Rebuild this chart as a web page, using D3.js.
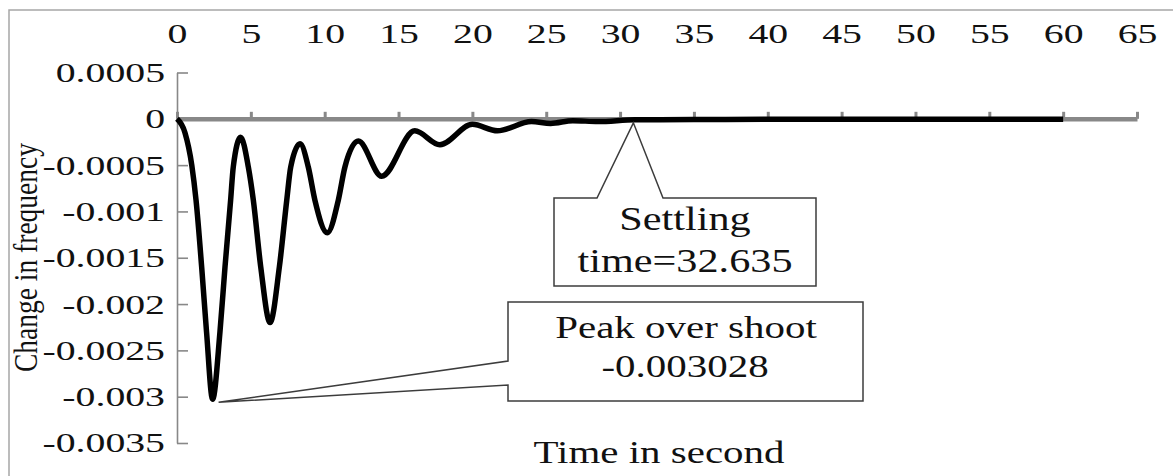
<!DOCTYPE html>
<html>
<head>
<meta charset="utf-8">
<script src="https://cdn.jsdelivr.net/npm/d3@7"></script>
<style>
  body { margin: 0; background: #fff; }
  svg { display: block; font-family: "Liberation Serif", "Times New Roman", serif; }
</style>
</head>
<body>
<svg id="chart"></svg>
<script>
// values
const timeSec = [0, 0.54, 1.0, 1.29, 1.67, 2.0, 2.41, 2.91, 3.25, 3.63, 3.81, 4.31,
  4.83, 5.17, 5.67, 6.3, 6.93, 7.43, 7.7, 8.33, 8.89, 9.34, 10.18, 10.92, 11.37,
  12.28, 13.86, 16.1, 17.8, 20.0, 21.7, 24.0, 25.3, 26.8, 28.5, 31, 35, 40, 60];
const freqChange = [0, -0.00015, -0.0005, -0.00088, -0.0016, -0.0023, -0.003028,
  -0.0023, -0.0016, -0.00088, -0.00052, -0.0002, -0.00052, -0.00088, -0.0016,
  -0.0022, -0.0016, -0.00088, -0.00052, -0.00027, -0.00052, -0.00088, -0.00123,
  -0.00088, -0.00052, -0.00024, -0.00062, -0.00013, -0.00028, -0.00006, -0.00013,
  -0.00003, -0.00005, -0.00002, -0.00003, -0.00001, -0.000008, -0.000005, -0.000005];

const xTicks = [0, 5, 10, 15, 20, 25, 30, 35, 40, 45, 50, 55, 60, 65];
const yTicks = [0.0005, 0, -0.0005, -0.001, -0.0015, -0.002, -0.0025, -0.003, -0.0035];
const yTickLabels = ["0.0005", "0", "-0.0005", "-0.001", "-0.0015", "-0.002", "-0.0025", "-0.003", "-0.0035"];

const peakPoint = { t: 2.41, v: -0.003028 };
const settlePoint = { t: 30.9, v: 0 };

const width = 1173;
const height = 476;

const svg = d3.select('#chart')
  .attr('width', width)
  .attr('height', height);

// outer frame (right/bottom edges fall outside the picture)
svg.append('rect')
  .attr('x', 9).attr('y', 10)
  .attr('width', 1200).attr('height', 500)
  .attr('fill', '#fff')
  .attr('stroke', '#a6a6a6')
  .attr('stroke-width', 1.5);

const x = d3.scaleLinear().domain([0, 65]).range([177, 1137]);
const y = d3.scaleLinear().domain([-0.0035, 0.0005]).range([443, 72.5]);

// y axis, ticks pointing into the plot
const yAxis = svg.append('g')
  .attr('transform', 'translate(177,0)')
  .call(d3.axisLeft(y)
    .tickValues(yTicks)
    .tickFormat((d, i) => yTickLabels[i])
    .tickSizeInner(-11)
    .tickSizeOuter(0));

yAxis.select('.domain').attr('stroke', '#888').attr('stroke-width', 1.6);
yAxis.selectAll('.tick line').attr('stroke', '#888').attr('stroke-width', 1.6);
yAxis.selectAll('.tick text')
  .attr('font-size', 28)
  .attr('fill', '#111')
  .attr('font-family', '"Liberation Serif", serif')
  .attr('text-anchor', 'end')
  .attr('x', -12 / 1.42)
  .attr('transform', 'scale(1.42,1)');

// x axis sits on zero, labels along the top
const y0 = y(0);
const xAxis = svg.append('g')
  .attr('transform', `translate(0,${y0})`)
  .call(d3.axisTop(x)
    .tickValues(xTicks)
    .tickSizeInner(7)
    .tickSizeOuter(0));

xAxis.select('.domain').attr('stroke', '#888').attr('stroke-width', 4.5);
xAxis.selectAll('.tick line').attr('stroke', '#888').attr('stroke-width', 3);
xAxis.selectAll('.tick text')
  .attr('font-size', 28)
  .attr('fill', '#111')
  .attr('font-family', '"Liberation Serif", serif')
  .attr('y', 42.5 - y0)
  .attr('dy', 0)
  .attr('transform', 'scale(1.42,1)');

// the response curve
const line = d3.line()
  .curve(d3.curveMonotoneX)
  .x(i => x(timeSec[i]))
  .y(i => y(freqChange[i]));

svg.append('path')
  .attr('d', line(d3.range(timeSec.length)))
  .attr('fill', 'none')
  .attr('stroke', '#000')
  .attr('stroke-width', 5.5)
  .attr('stroke-linejoin', 'round');

// callouts
const boxStroke = '#3c3c3c';

// settling time callout
const sx = x(settlePoint.t), sy = y(settlePoint.v) + 4;
const sBox = { x0: 554, y0: 198, x1: 816, y1: 286 };
svg.append('path')
  .attr('d', `M${sBox.x0},${sBox.y0} H597 L${sx},${sy} L663,${sBox.y0} H${sBox.x1} V${sBox.y1} H${sBox.x0} Z`)
  .attr('fill', '#fff')
  .attr('stroke', boxStroke)
  .attr('stroke-width', 1.5);

const calloutText = (txt, cx, by, size) => {
  svg.append('text')
    .attr('transform', `translate(${cx},${by}) scale(1.28,1)`)
    .attr('text-anchor', 'middle')
    .attr('font-size', size)
    .attr('fill', '#111')
    .text(txt);
};
calloutText('Settling', 685, 230, 33);
calloutText('time=32.635', 685, 272, 33);

// peak overshoot callout
const px = x(peakPoint.t) + 6, py = y(peakPoint.v) + 3;
const pBox = { x0: 508, y0: 302, x1: 863, y1: 401 };
svg.append('path')
  .attr('d', `M${pBox.x0},${pBox.y0} H${pBox.x1} V${pBox.y1} H${pBox.x0} V385 L${px},${py} L${pBox.x0},361 Z`)
  .attr('fill', '#fff')
  .attr('stroke', boxStroke)
  .attr('stroke-width', 1.5);

calloutText('Peak over shoot', 686, 338, 32);
calloutText('-0.003028', 685, 377, 32);

// axis titles
svg.append('text')
  .attr('transform', 'translate(659,463) scale(1.28,1)')
  .attr('text-anchor', 'middle')
  .attr('font-size', 32)
  .attr('fill', '#111')
  .text('Time in second');

svg.append('text')
  .attr('transform', 'translate(37,257.5) scale(1.2,1) rotate(-90)')
  .attr('text-anchor', 'middle')
  .attr('font-size', 27.5)
  .attr('fill', '#111')
  .text('Change in frequency');
</script>
</body>
</html>
